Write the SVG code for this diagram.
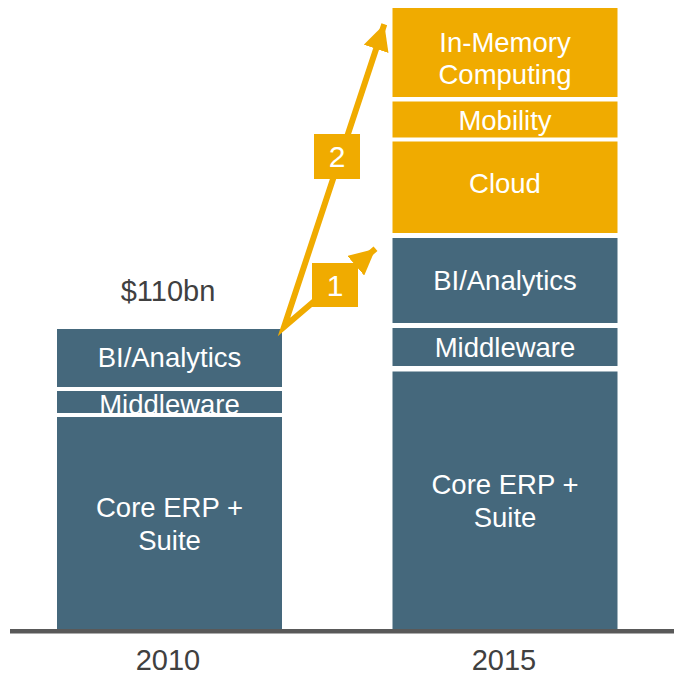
<svg xmlns="http://www.w3.org/2000/svg" width="674" height="675" viewBox="0 0 674 675">
  <defs>
    <style>
      .core { fill: #45687c; }
      .new { fill: #f0ab00; }
      .lbl { font-family: "Liberation Sans", Arial, sans-serif; font-size: 27.5px; fill: #ffffff; text-anchor: middle; }
      .axis { font-family: "Liberation Sans", Arial, sans-serif; font-size: 29px; fill: #404040; text-anchor: middle; }
      .step { font-family: "Liberation Sans", Arial, sans-serif; font-size: 30px; fill: #ffffff; text-anchor: middle; }
      .arrow { fill: none; stroke: #f0ab00; stroke-width: 6; stroke-linejoin: miter; stroke-miterlimit: 10; }
    </style>
    <marker id="head" markerUnits="userSpaceOnUse" markerWidth="28" markerHeight="26" refX="26" refY="13" orient="auto-start-reverse" viewBox="0 0 28 26">
      <path d="M0,0 L26,13 L0,26 z" fill="#f0ab00"/>
    </marker>
    <clipPath id="clipMidL">
      <rect x="57" y="391" width="225" height="22"/>
    </clipPath>
  </defs>

  <!-- 2010 stack -->
  <g id="bar2010">
    <g id="bi2010">
      <rect class="core" x="57" y="329" width="225" height="58"/>
      <text class="lbl" x="169.5" y="367">BI/Analytics</text>
    </g>
    <g id="mw2010">
      <rect class="core" x="57" y="391" width="225" height="22"/>
      <text class="lbl" x="169.5" y="414" clip-path="url(#clipMidL)">Middleware</text>
    </g>
    <g id="erp2010">
      <rect class="core" x="57" y="417" width="225" height="213"/>
      <text class="lbl" x="169.5" y="517">Core ERP +</text>
      <text class="lbl" x="169.5" y="550">Suite</text>
    </g>
  </g>

  <!-- 2015 stack -->
  <g id="bar2015">
    <g id="imc2015">
      <rect class="new" x="392.5" y="8" width="225" height="89"/>
      <text class="lbl" x="505" y="52">In-Memory</text>
      <text class="lbl" x="505" y="84">Computing</text>
    </g>
    <g id="mob2015">
      <rect class="new" x="392.5" y="101.5" width="225" height="36"/>
      <text class="lbl" x="505" y="130">Mobility</text>
    </g>
    <g id="cloud2015">
      <rect class="new" x="392.5" y="141.5" width="225" height="91.5"/>
      <text class="lbl" x="505" y="193">Cloud</text>
    </g>
    <g id="bi2015">
      <rect class="core" x="392.5" y="238" width="225" height="85"/>
      <text class="lbl" x="505" y="290">BI/Analytics</text>
    </g>
    <g id="mw2015">
      <rect class="core" x="392.5" y="328" width="225" height="38"/>
      <text class="lbl" x="505" y="357">Middleware</text>
    </g>
    <g id="erp2015">
      <rect class="core" x="392.5" y="371.5" width="225" height="258.5"/>
      <text class="lbl" x="505" y="494">Core ERP +</text>
      <text class="lbl" x="505" y="527">Suite</text>
    </g>
  </g>

  <!-- baseline -->
  <rect x="10" y="629" width="664" height="4.5" fill="#595959"/>

  <!-- totals and years -->
  <text class="axis" x="168" y="301">$110bn</text>
  <text class="axis" x="168" y="670">2010</text>
  <text class="axis" x="504" y="670">2015</text>

  <!-- growth arrows -->
  <g id="connectors">
    <polyline class="arrow" points="375.5,248.8 284,327 384.3,24.2" marker-start="url(#head)" marker-end="url(#head)"/>
  </g>

  <g id="step2">
    <rect class="new" x="314" y="134" width="46" height="45"/>
    <text class="step" x="337" y="167">2</text>
  </g>
  <g id="step1">
    <rect class="new" x="312" y="263" width="46" height="44"/>
    <text class="step" x="335" y="296">1</text>
  </g>
</svg>
